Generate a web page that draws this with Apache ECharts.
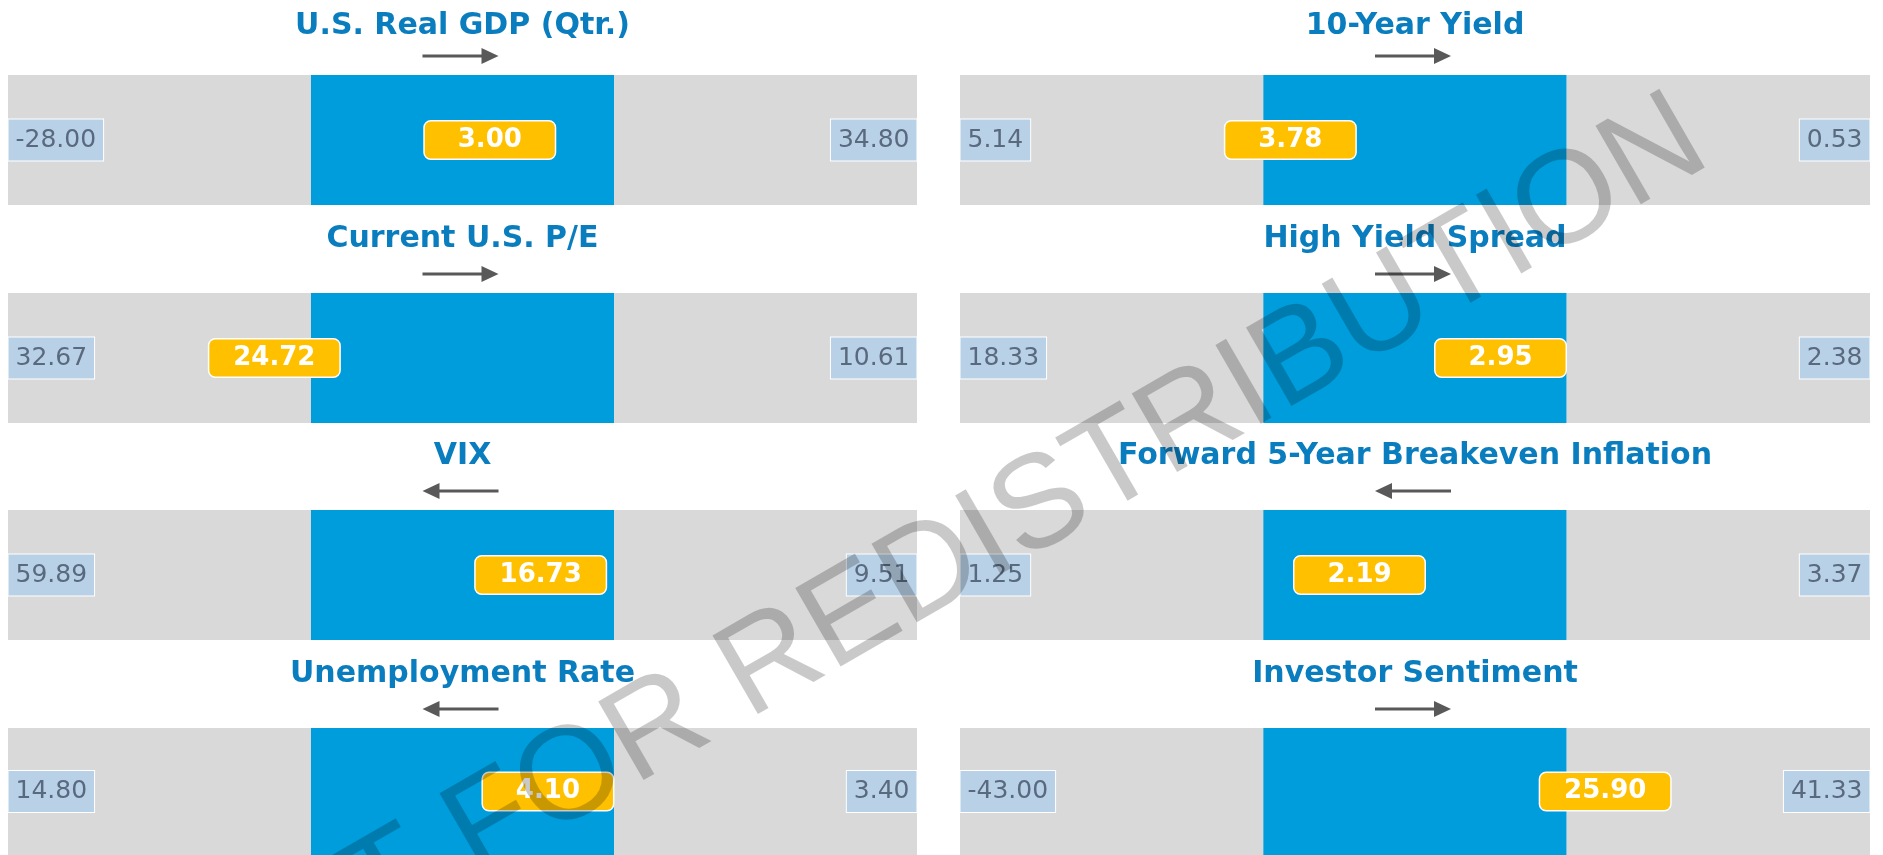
<!DOCTYPE html>
<html>
<head>
<meta charset="utf-8">
<script src="https://cdn.jsdelivr.net/npm/echarts@6/dist/echarts.min.js"></script>
<style>
  html, body { margin: 0; padding: 0; background: #ffffff; }
  #chart { width: 1883px; height: 855px; }
</style>
</head>
<body>
<div id="chart"></div>
<script>
// ---- data (left column top→bottom, then right column top→bottom) ----
const titles = [
  'U.S. Real GDP (Qtr.)', 'Current U.S. P/E', 'VIX', 'Unemployment Rate',
  '10-Year Yield', 'High Yield Spread', 'Forward 5-Year Breakeven Inflation', 'Investor Sentiment'
];
const currentValues = [3.00, 24.72, 16.73, 4.10, 3.78, 2.95, 2.19, 25.90];
const leftEndValues = [-28.00, 32.67, 59.89, 14.80, 5.14, 18.33, 1.25, -43.00];
const rightEndValues = [34.80, 10.61, 9.51, 3.40, 0.53, 2.38, 3.37, 41.33];
// position of the current reading along the range, in percent
const currentPercentile = [53.0, 29.3, 58.6, 59.4, 36.3, 59.4, 43.9, 70.9];
const arrowDirections = ['right', 'right', 'left', 'left', 'right', 'right', 'left', 'right'];
const zoneEdges = [0, 33.33, 66.67, 100];
const watermarkText = 'NOT FOR REDISTRIBUTION';

// ---- layout / style ----
const colX = [8, 960];
const colW = [909, 910];
const rowTop = [75, 293, 510, 728];
const bandH = 130;
const GRAY = '#D9D9D9', BLUE = '#009DDC', YELLOW = '#FFC000';
const TITLE_COLOR = '#0A7DBF', ARROW_COLOR = '#595959';

const chart = echarts.init(document.getElementById('chart'), null, { renderer: 'canvas' });

const grids = [], xAxes = [], yAxes = [], series = [], graphics = [];

titles.forEach((t, i) => {
  const col = Math.floor(i / 4), row = i % 4;
  const left = colX[col], width = colW[col], top = rowTop[row];
  grids.push({ left: left, top: top, width: width, height: bandH, containLabel: false });
  xAxes.push({ gridIndex: i, type: 'value', min: 0, max: 100, show: false });
  yAxes.push({ gridIndex: i, type: 'category', data: ['v'], show: false });

  const endLabel = {
    show: true,
    distance: 0,
    opacity: 1,
    fontFamily: 'DejaVu Sans',
    fontSize: 25,
    lineHeight: 25,
    color: '#5A6A7E',
    backgroundColor: '#B9D1E7',
    borderColor: '#FFFFFF',
    borderWidth: 1,
    padding: [8, 7, 8, 7]
  };

  series.push({
    type: 'scatter',
    xAxisIndex: i, yAxisIndex: i,
    symbolSize: 1,
    itemStyle: { color: 'rgba(0,0,0,0)', opacity: 1 },
    silent: true,
    z: 3,
    data: [
      { value: [zoneEdges[0], 0], label: Object.assign({}, endLabel, { position: 'right', formatter: leftEndValues[i].toFixed(2) }) },
      { value: [zoneEdges[3], 0], label: Object.assign({}, endLabel, { position: 'left', formatter: rightEndValues[i].toFixed(2) }) }
    ],
    markArea: {
      silent: true,
      label: { show: false },
      data: [
        [{ xAxis: zoneEdges[0], itemStyle: { color: GRAY, opacity: 1 } }, { xAxis: zoneEdges[1] }],
        [{ xAxis: zoneEdges[1], itemStyle: { color: BLUE, opacity: 1 } }, { xAxis: zoneEdges[2] }],
        [{ xAxis: zoneEdges[2], itemStyle: { color: GRAY, opacity: 1 } }, { xAxis: zoneEdges[3] }]
      ]
    }
  });

  series.push({
    type: 'scatter',
    xAxisIndex: i, yAxisIndex: i,
    symbolSize: 1,
    itemStyle: { color: 'rgba(0,0,0,0)', opacity: 1 },
    silent: true,
    z: 5,
    data: [[currentPercentile[i], 0]],
    label: {
      show: true,
      position: 'inside',
      opacity: 1,
      formatter: currentValues[i].toFixed(2),
      fontFamily: 'DejaVu Sans',
      fontWeight: 'bold',
      fontSize: 26,
      lineHeight: 26,
      color: '#FFFFFF',
      backgroundColor: YELLOW,
      borderColor: '#FFFFFF',
      borderWidth: 1.5,
      borderRadius: 6,
      width: 118,
      align: 'center',
      padding: [6, 6, 5, 6]
    }
  });

  // title
  const cx = left + width / 2;
  graphics.push({
    type: 'text',
    x: cx,
    y: Math.max(26, top - 54),
    z: 10,
    style: {
      text: t,
      font: 'bold 30px "DejaVu Sans"',
      fill: TITLE_COLOR,
      textAlign: 'center',
      textVerticalAlign: 'middle',
      align: 'center',
      verticalAlign: 'middle'
    }
  });

  // arrow
  const ay = top - 19, len = 76, head = 17, hh = 8;
  const ax0 = cx - 2 - len / 2, ax1 = cx - 2 + len / 2;
  const right = arrowDirections[i] === 'right';
  graphics.push({
    type: 'group',
    z: 10,
    children: [
      {
        type: 'line',
        shape: right ? { x1: ax0, y1: ay, x2: ax1 - head + 1, y2: ay } : { x1: ax0 + head - 1, y1: ay, x2: ax1, y2: ay },
        style: { stroke: ARROW_COLOR, lineWidth: 3 }
      },
      {
        type: 'polygon',
        shape: {
          points: right
            ? [[ax1 - head, ay - hh], [ax1, ay], [ax1 - head, ay + hh]]
            : [[ax0 + head, ay - hh], [ax0, ay], [ax0 + head, ay + hh]]
        },
        style: { fill: ARROW_COLOR }
      }
    ]
  });
});

// watermark on top of everything
graphics.push({
  type: 'text',
  x: 940,
  y: 567,
  rotation: Math.PI / 6,
  z: 100,
  silent: true,
  style: {
    text: watermarkText,
    font: '132px "Liberation Sans"',
    fill: 'rgba(0,0,0,0.21)',
    textAlign: 'center',
    textVerticalAlign: 'middle',
    align: 'center',
    verticalAlign: 'middle'
  }
});

chart.setOption({
  animation: false,
  backgroundColor: '#FFFFFF',
  grid: grids,
  xAxis: xAxes,
  yAxis: yAxes,
  series: series,
  graphic: { elements: graphics }
});
</script>
</body>
</html>
